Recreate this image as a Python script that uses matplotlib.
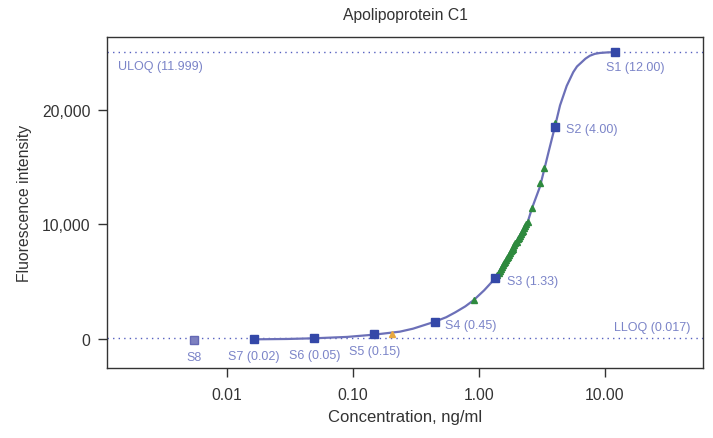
import matplotlib
matplotlib.use("Agg")
import matplotlib.pyplot as plt
from matplotlib.ticker import FixedLocator, NullLocator

plt.rcParams['font.family'] = ['Liberation Sans', 'DejaVu Sans']

# standards (3-fold dilution series)
std_names = ['S1', 'S2', 'S3', 'S4', 'S5', 'S6', 'S7', 'S8']
std_labels = ['S1 (12.00)', 'S2 (4.00)', 'S3 (1.33)', 'S4 (0.45)',
              'S5 (0.15)', 'S6 (0.05)', 'S7 (0.02)', 'S8']
std_conc = [12.0, 4.0, 1.333, 0.4444, 0.1481, 0.04938, 0.01646, 0.005487]
std_fi = [25050, 18500, 5300, 1490, 410, 60, -30, -115]

# fitted standard curve
curve_conc = [0.01646, 0.03, 0.0494, 0.09, 0.148, 0.236, 0.3, 0.444, 0.55,
              0.65, 0.78, 0.91, 1.1, 1.333, 1.8, 2.45, 2.64, 3.05, 3.28,
              3.6, 4.0, 4.40, 4.97, 5.60, 6.0, 6.53, 7.0, 7.60, 8.3, 9.12,
              10.5, 12.0]
curve_fi = [-30, 0, 60, 180, 380, 640, 900, 1500, 1900, 2330, 2850, 3400,
            4250, 5250, 7700, 10300, 11440, 13300, 14700, 16500, 18500,
            20400, 22100, 23300, 23800, 24170, 24480, 24740, 24900, 24980,
            25030, 25050]

# samples (green triangles)
samp_conc = [0.91, 1.36, 1.40, 1.43, 1.46, 1.49, 1.52, 1.55, 1.58, 1.61,
             1.64, 1.67, 1.70, 1.73, 1.76, 1.79, 1.82, 1.85, 1.88, 1.91,
             1.95, 1.99, 2.03, 2.07, 2.11, 2.15, 2.19, 2.23, 2.28, 2.33,
             2.38, 2.43, 2.64, 3.05, 3.28, 4.05]
samp_fi = [3400, 5350, 5600, 5750, 5950, 6100, 6250, 6450, 6600, 6750,
           6900, 7050, 7200, 7350, 7500, 7650, 7800, 7900, 8050, 8200,
           8350, 8500, 8700, 8850, 9000, 9150, 9300, 9450, 9650, 9850,
           10000, 10200, 11440, 13600, 14900, 18900]

# out-of-range sample (orange)
out_conc = [0.203]
out_fi = [460]

uloq = 25100
lloq = 50

fig = plt.figure(figsize=(7.13, 4.39), dpi=100)
ax = fig.add_axes([0.150, 0.1595, 0.836, 0.754])

lab_col = '#7b84c8'
ax.axhline(uloq, color='#5560c0', lw=1.0, ls=(0, (1, 3)), zorder=1)
ax.axhline(lloq, color='#5560c0', lw=1.0, ls=(0, (1, 3)), zorder=1)

ax.plot(curve_conc, curve_fi, color='#6c70b8', lw=1.6, zorder=2)
ax.plot(samp_conc, samp_fi, ls='none', marker='^', ms=5, color='#2e8a3e',
        mec='#2e8a3e', zorder=3)
ax.plot(out_conc, out_fi, ls='none', marker='^', ms=5, color='#e8a840',
        zorder=3)
ax.plot(std_conc[:7], std_fi[:7], ls='none', marker='s', ms=5.5,
        color='#3448a8', zorder=4)
ax.plot(std_conc[7:], std_fi[7:], ls='none', marker='s', ms=5.5,
        color='#7d80c0', mec='#6468b4', zorder=4)

# label offsets in points
px = 0.72
offsets = [(-9, -15, 'left'), (11, -2, 'left'), (12, -3, 'left'),
           (10, -3, 'left'), (0, -17, 'center'), (0, -17, 'center'),
           (0, -17, 'center'), (0, -17, 'center')]
for lab, c, f, (dx, dy, ha) in zip(std_labels, std_conc, std_fi, offsets):
    ax.annotate(lab, (c, f), xytext=(dx * px, dy * px),
                textcoords='offset points', ha=ha, va='center',
                color=lab_col, fontsize=9)

ax.text(0.001365, 23840, 'ULOQ (11.999)', color=lab_col, fontsize=9,
        ha='left', va='center')
ax.text(47.3, 1050, 'LLOQ (0.017)', color=lab_col, fontsize=9,
        ha='right', va='center')

ax.set_xscale('log')
ax.set_xlim(0.001117, 60)
ax.set_ylim(-2533, 26376)
ax.xaxis.set_major_locator(FixedLocator([0.01, 0.1, 1, 10]))
ax.xaxis.set_minor_locator(NullLocator())
ax.set_xticklabels(['0.01', '0.10', '1.00', '10.00'])
ax.set_yticks([0, 10000, 20000])
ax.set_yticklabels(['0', '10,000', '20,000'])
ax.tick_params(direction='out', length=6.5, width=1.0, color='#333333',
               labelsize=11.3, labelcolor='#333333')
ax.tick_params(axis='x', pad=7)
ax.tick_params(axis='y', pad=5.5)
for s in ax.spines.values():
    s.set_color('#333333')
    s.set_linewidth(1.0)

ax.set_title('Apolipoprotein C1', fontsize=11.3, color='#333333', pad=13)
ax.set_xlabel('Concentration, ng/ml', fontsize=12, color='#333333',
              labelpad=5)
ax.set_ylabel('Fluorescence intensity', fontsize=11.3, color='#333333',
              labelpad=7)

fig.savefig('out.png', dpi=100)
